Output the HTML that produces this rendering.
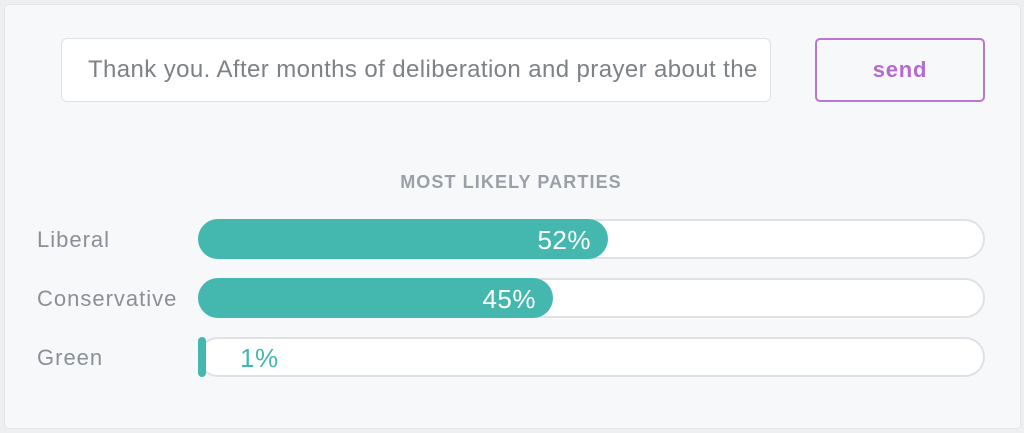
<!DOCTYPE html>
<html><head><style>
body{margin:0;width:1024px;height:433px;background:#eeeff1;font-family:"Liberation Sans",sans-serif;overflow:hidden;position:relative}
.panel{position:absolute;left:4px;top:4px;width:1015px;height:423px;background:#f7f8fa;border:1px solid #e4e6e9;border-radius:4px}
.abs{position:absolute}
.input{left:61px;top:38px;background:#fff;border:1px solid #dfe1e4;border-radius:6px;overflow:hidden;white-space:nowrap;font-size:24px;letter-spacing:.4px;color:#7d8287;line-height:62px;padding-left:26px;box-sizing:border-box;width:710px;height:64px}
.send{left:815px;top:38px;width:170px;height:64px;box-sizing:border-box;border:2px solid #b877d3;border-radius:5px;color:#b56ad3;font-size:22px;letter-spacing:.8px;font-weight:bold;text-align:center;line-height:60px}
.title{left:0;width:1022px;top:172px;text-align:center;font-size:18px;font-weight:bold;color:#9aa0a6;letter-spacing:1.1px}
.lab{left:37px;font-size:22px;letter-spacing:1px;color:#8a9096}
.track{left:198px;width:787px;height:40px;box-sizing:border-box;background:#fff;border:2px solid #dfe1e5;border-radius:20px}
.fill{left:198px;height:40px;background:#44b8ae;border-radius:20px;color:#fff;font-size:26px;letter-spacing:.5px;text-align:right;line-height:42px;box-sizing:border-box;padding-right:17px}
</style></head><body>
<div class="panel"></div>
<div class="abs input">Thank you. After months of deliberation and prayer about the</div>
<div class="abs send">send</div>
<div class="abs title">MOST LIKELY PARTIES</div>
<div class="abs lab" style="top:227px">Liberal</div>
<div class="abs lab" style="top:286px">Conservative</div>
<div class="abs lab" style="top:345px">Green</div>
<div class="abs track" style="top:219px"></div>
<div class="abs track" style="top:278px"></div>
<div class="abs track" style="top:337px"></div>
<div class="abs fill" style="top:219px;width:410px">52%</div>
<div class="abs fill" style="top:278px;width:355px">45%</div>
<div class="abs" style="left:198px;top:337px;width:8px;height:40px;background:#44b8ae;border-radius:4px"></div>
<div class="abs" style="left:240px;top:343px;font-size:26px;letter-spacing:.5px;color:#44b8ae">1%</div>
</body></html>
